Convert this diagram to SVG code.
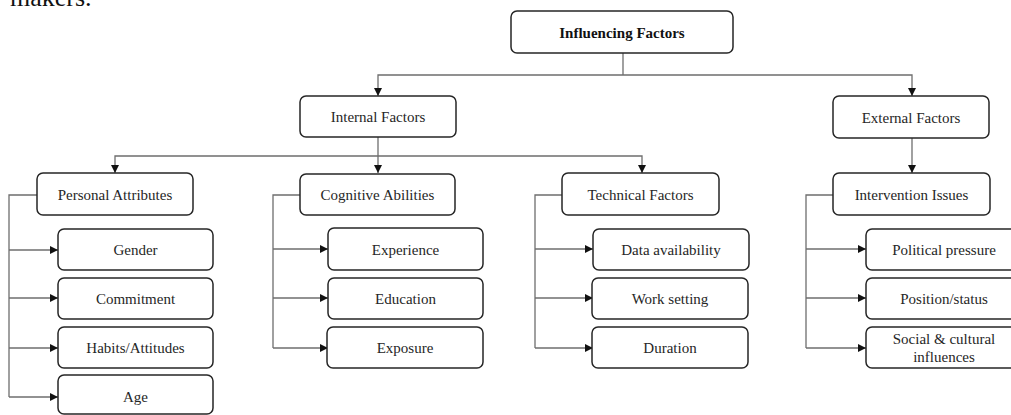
<svg xmlns="http://www.w3.org/2000/svg" width="1011" height="415" viewBox="0 0 1011 415">
  <style>
    .box { fill: #ffffff; stroke: #262626; stroke-width: 1.5; }
    .lbl { font-family: "Liberation Serif", "Times New Roman", serif; font-size: 15px; fill: #262626; text-anchor: middle; }
    .bold { font-weight: bold; fill: #111111; }
    .cap { font-family: "Liberation Serif", "Times New Roman", serif; font-size: 26px; fill: #111111; }
    .wire { fill: none; stroke: #6e6e6e; stroke-width: 1.3; }
  </style>
  <defs>
    <marker id="arrow" markerUnits="userSpaceOnUse" markerWidth="9" markerHeight="9" refX="8" refY="4" orient="auto">
      <path d="M0,0 L8,4 L0,8 Z" fill="#111111"/>
    </marker>
  </defs>
  <rect width="1011" height="415" fill="#ffffff"/>

  <!-- trailing words of the preceding paragraph -->
  <text class="cap" x="10" y="6">makers.</text>

  <!-- connectors -->
  <g id="connectors">
    <path class="wire" d="M623,53 V75"/>
    <path class="wire" d="M623,75 H378 V96" marker-end="url(#arrow)"/>
    <path class="wire" d="M623,75 H912 V96" marker-end="url(#arrow)"/>
    <path class="wire" d="M912,138 V173" marker-end="url(#arrow)"/>

    <path class="wire" d="M378,137 V156"/>
    <path class="wire" d="M378,156 H115 V173" marker-end="url(#arrow)"/>
    <path class="wire" d="M378,156 V173" marker-end="url(#arrow)"/>
    <path class="wire" d="M378,156 H642 V173" marker-end="url(#arrow)"/>

    <!-- Personal Attributes branch -->
    <path class="wire" d="M37,195 H9 V397"/>
    <path class="wire" d="M9,250 H58" marker-end="url(#arrow)"/>
    <path class="wire" d="M9,298 H58" marker-end="url(#arrow)"/>
    <path class="wire" d="M9,348 H58" marker-end="url(#arrow)"/>
    <path class="wire" d="M9,397 H58" marker-end="url(#arrow)"/>

    <!-- Cognitive Abilities branch -->
    <path class="wire" d="M300,195 H273 V348"/>
    <path class="wire" d="M273,249 H328" marker-end="url(#arrow)"/>
    <path class="wire" d="M273,298 H328" marker-end="url(#arrow)"/>
    <path class="wire" d="M273,348 H328" marker-end="url(#arrow)"/>

    <!-- Technical Factors branch -->
    <path class="wire" d="M562,195 H535 V348"/>
    <path class="wire" d="M535,249 H593" marker-end="url(#arrow)"/>
    <path class="wire" d="M535,298 H593" marker-end="url(#arrow)"/>
    <path class="wire" d="M535,348 H593" marker-end="url(#arrow)"/>

    <!-- Intervention Issues branch -->
    <path class="wire" d="M833,195 H806 V348"/>
    <path class="wire" d="M806,249 H866" marker-end="url(#arrow)"/>
    <path class="wire" d="M806,298 H866" marker-end="url(#arrow)"/>
    <path class="wire" d="M806,348 H866" marker-end="url(#arrow)"/>
  </g>

  <!-- root -->
  <g id="influencing-factors">
    <rect class="box" x="511" y="11" width="222" height="42" rx="6"/>
    <text class="lbl bold" x="622" y="37.5">Influencing Factors</text>
  </g>

  <!-- second level -->
  <g id="internal-factors">
    <rect class="box" x="300" y="96" width="156" height="41" rx="6"/>
    <text class="lbl" x="378" y="122">Internal Factors</text>
  </g>
  <g id="external-factors">
    <rect class="box" x="833" y="96" width="156" height="42" rx="6"/>
    <text class="lbl" x="911" y="122.5">External Factors</text>
  </g>

  <!-- third level -->
  <g id="personal-attributes">
    <rect class="box" x="37" y="173" width="156" height="42" rx="6"/>
    <text class="lbl" x="115" y="199.5">Personal Attributes</text>
  </g>
  <g id="cognitive-abilities">
    <rect class="box" x="300" y="174" width="155" height="41" rx="6"/>
    <text class="lbl" x="377.5" y="200">Cognitive Abilities</text>
  </g>
  <g id="technical-factors">
    <rect class="box" x="562" y="173" width="157" height="42" rx="6"/>
    <text class="lbl" x="640.5" y="199.5">Technical Factors</text>
  </g>
  <g id="intervention-issues">
    <rect class="box" x="833" y="173" width="157" height="42" rx="6"/>
    <text class="lbl" x="911.5" y="199.5">Intervention Issues</text>
  </g>

  <!-- Personal Attributes leaves -->
  <g id="gender">
    <rect class="box" x="58" y="229" width="155" height="41" rx="6"/>
    <text class="lbl" x="135.5" y="255">Gender</text>
  </g>
  <g id="commitment">
    <rect class="box" x="58" y="278" width="155" height="41" rx="6"/>
    <text class="lbl" x="135.5" y="304">Commitment</text>
  </g>
  <g id="habits-attitudes">
    <rect class="box" x="58" y="327" width="155" height="41" rx="6"/>
    <text class="lbl" x="135.5" y="353">Habits/Attitudes</text>
  </g>
  <g id="age">
    <rect class="box" x="58" y="375" width="155" height="39" rx="6"/>
    <text class="lbl" x="135.5" y="402">Age</text>
  </g>

  <!-- Cognitive Abilities leaves -->
  <g id="experience">
    <rect class="box" x="328" y="228" width="155" height="42" rx="6"/>
    <text class="lbl" x="405.5" y="254.5">Experience</text>
  </g>
  <g id="education">
    <rect class="box" x="328" y="278" width="155" height="41" rx="6"/>
    <text class="lbl" x="405.5" y="304">Education</text>
  </g>
  <g id="exposure">
    <rect class="box" x="327" y="327" width="156" height="41" rx="6"/>
    <text class="lbl" x="405" y="353">Exposure</text>
  </g>

  <!-- Technical Factors leaves -->
  <g id="data-availability">
    <rect class="box" x="593" y="229" width="156" height="41" rx="6"/>
    <text class="lbl" x="671" y="255">Data availability</text>
  </g>
  <g id="work-setting">
    <rect class="box" x="592" y="278" width="156" height="41" rx="6"/>
    <text class="lbl" x="670" y="304">Work setting</text>
  </g>
  <g id="duration">
    <rect class="box" x="592" y="327" width="156" height="41" rx="6"/>
    <text class="lbl" x="670" y="353">Duration</text>
  </g>

  <!-- Intervention Issues leaves -->
  <g id="political-pressure">
    <rect class="box" x="866" y="229" width="156" height="41" rx="6"/>
    <text class="lbl" x="944" y="255">Political pressure</text>
  </g>
  <g id="position-status">
    <rect class="box" x="866" y="278" width="156" height="41" rx="6"/>
    <text class="lbl" x="944" y="304">Position/status</text>
  </g>
  <g id="social-cultural">
    <rect class="box" x="866" y="327" width="156" height="41" rx="6"/>
    <text class="lbl" x="944" y="344">Social &amp; cultural</text>
    <text class="lbl" x="944" y="362">influences</text>
  </g>
</svg>
